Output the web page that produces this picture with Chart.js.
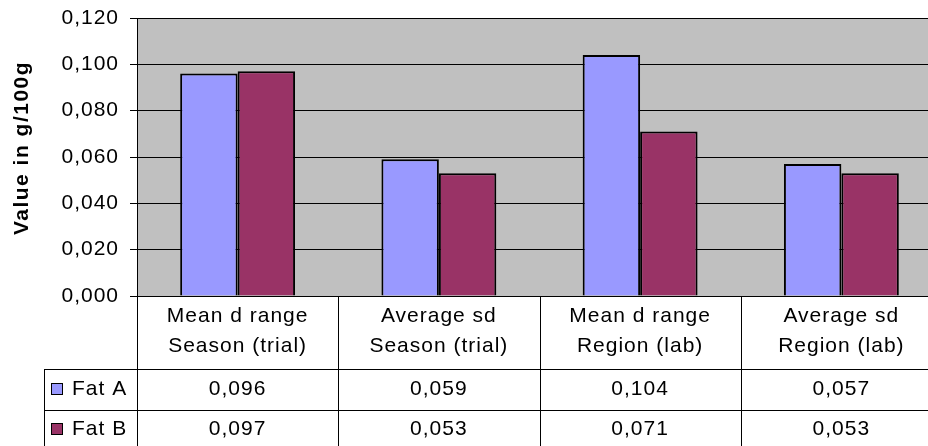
<!DOCTYPE html>
<html>
<head>
<meta charset="utf-8">
<script src="https://cdn.jsdelivr.net/npm/chart.js@4/dist/chart.umd.min.js"></script>
<style>
  html, body { margin: 0; padding: 0; background: #ffffff; }
  #wrap { width: 928px; height: 446px; overflow: hidden; position: relative; }
  canvas { display: block; }
</style>
</head>
<body>
<div id="wrap"><canvas id="c" width="942" height="446"></canvas></div>
<script>
// ---- data ----
const catLine1 = ['Mean d range', 'Average sd', 'Mean d range', 'Average sd'];
const catLine2 = ['Season (trial)', 'Season (trial)', 'Region (lab)', 'Region (lab)'];
const seriesNames = ['Fat A', 'Fat B'];
const fatA = [0.096, 0.059, 0.104, 0.057];
const fatB = [0.097, 0.053, 0.071, 0.053];
const yTicks = [0, 0.02, 0.04, 0.06, 0.08, 0.10, 0.12];
const yTitle = 'Value in g/100g';

const colors = ['#9999FF', '#993366'];
const FONT = '"Liberation Sans", Arial, sans-serif';
const fmt = v => v.toFixed(3).replace('.', ',');

const excelPlugin = {
  id: 'excel',
  beforeDraw(chart) {
    const ctx = chart.ctx;
    ctx.letterSpacing = '1px';
    const a = chart.chartArea;
    ctx.save();
    ctx.fillStyle = '#C0C0C0';
    ctx.fillRect(a.left, a.top, a.right - a.left, a.bottom - a.top);
    ctx.restore();
  },
  afterDraw(chart) {
    const ctx = chart.ctx;
    const a = chart.chartArea;
    const xs = chart.scales.x;
    const n = catLine1.length;
    const half = (xs.getPixelForValue(1) - xs.getPixelForValue(0)) / 2;
    const bottom = chart.height;
    const row1 = 369, row2 = 410, legLeft = 44;
    ctx.save();
    ctx.strokeStyle = '#000';
    ctx.lineWidth = 1;
    const bounds = [];
    for (let i = 0; i < n; i++) bounds.push(xs.getPixelForValue(i) - half);
    bounds.push(xs.getPixelForValue(n - 1) + half);
    ctx.beginPath();
    bounds.forEach(b => {
      const x = Math.round(b) + 0.5;
      ctx.moveTo(x, a.bottom);
      ctx.lineTo(x, bottom);
    });
    ctx.moveTo(legLeft + 0.5, row1);
    ctx.lineTo(legLeft + 0.5, bottom);
    [row1, row2].forEach(y => {
      ctx.moveTo(legLeft, y + 0.5);
      ctx.lineTo(bounds[n], y + 0.5);
    });
    ctx.stroke();

    ctx.fillStyle = '#000';
    ctx.font = '21px ' + FONT;
    ctx.letterSpacing = '1px';
    ctx.textAlign = 'center';
    ctx.textBaseline = 'middle';
    for (let i = 0; i < n; i++) {
      const cx = xs.getPixelForValue(i);
      ctx.fillText(catLine1[i], cx, 316);
      ctx.fillText(catLine2[i], cx, 346);
      ctx.fillText(fmt(fatA[i]), cx, 389);
      ctx.fillText(fmt(fatB[i]), cx, 429);
    }
    const rowsY = [389, 429];
    ctx.textAlign = 'left';
    seriesNames.forEach((name, k) => {
      const y = rowsY[k];
      ctx.fillStyle = colors[k];
      ctx.fillRect(51, y - 6, 12, 12);
      ctx.strokeStyle = '#000';
      ctx.strokeRect(51.5, y - 5.5, 11, 11);
      ctx.fillStyle = '#000';
      ctx.fillText(name, 72, y);
    });

    ctx.save();
    ctx.translate(22, 148);
    ctx.rotate(-Math.PI / 2);
    ctx.font = 'bold 21px ' + FONT;
    ctx.letterSpacing = '1.5px';
    ctx.textAlign = 'center';
    ctx.textBaseline = 'middle';
    ctx.fillText(yTitle, 0, 0);
    ctx.restore();
    ctx.restore();
  }
};

new Chart(document.getElementById('c'), {
  type: 'bar',
  data: {
    labels: catLine1.map((l, i) => [l, catLine2[i]]),
    datasets: [
      { label: seriesNames[0], data: fatA, backgroundColor: colors[0], borderColor: '#000', borderWidth: 2 },
      { label: seriesNames[1], data: fatB, backgroundColor: colors[1], borderColor: '#000', borderWidth: 2 }
    ]
  },
  options: {
    responsive: false,
    devicePixelRatio: 1,
    animation: false,
    layout: { padding: { top: 18, bottom: 150, left: 0, right: 0 } },
    datasets: { bar: { categoryPercentage: 0.571, barPercentage: 1 } },
    plugins: { legend: { display: false }, tooltip: { enabled: false }, title: { display: false } },
    scales: {
      x: { display: false },
      y: {
        min: 0, max: 0.12,
        afterFit(scale) { scale.width = 137; scale.paddingTop = 0; scale.paddingBottom = 0; },
        afterBuildTicks(scale) { scale.ticks = yTicks.map(v => ({ value: v })); },
        ticks: {
          font: { family: FONT, size: 21 },
          color: '#000',
          padding: 11,
          callback: v => fmt(v)
        },
        grid: { color: '#000', lineWidth: 1, tickLength: 7, drawTicks: true },
        border: { display: true, color: '#000', width: 1 }
      }
    }
  },
  plugins: [excelPlugin]
});
</script>
</body>
</html>
